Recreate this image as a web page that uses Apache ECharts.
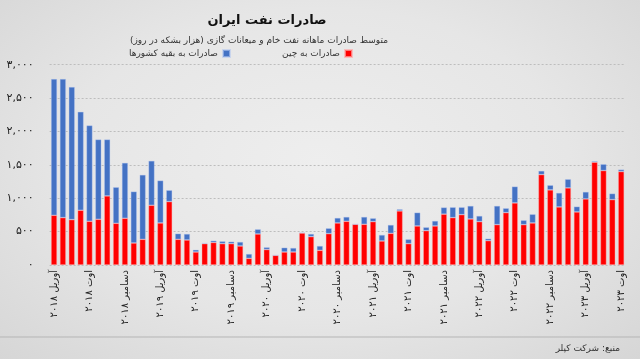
<!DOCTYPE html>
<html>
<head>
<meta charset="utf-8">
<script src="https://cdn.jsdelivr.net/npm/echarts@6/dist/echarts.min.js"></script>
<style>
html,body{margin:0;padding:0;}
body{width:640px;height:359px;overflow:hidden;background:radial-gradient(ellipse at 50% 45%, #eeeeee 0%, #e6e6e6 55%, #d6d6d6 100%);}
#chart{width:640px;height:359px;}
</style>
</head>
<body>
<div id="chart"></div>
<script>
const categories = [
 'آوریل ۲۰۱۸','مه ۲۰۱۸','ژوئن ۲۰۱۸','ژوئیه ۲۰۱۸','اوت ۲۰۱۸','سپتامبر ۲۰۱۸','اکتبر ۲۰۱۸','نوامبر ۲۰۱۸','دسامبر ۲۰۱۸',
 'ژانویه ۲۰۱۹','فوریه ۲۰۱۹','مارس ۲۰۱۹','آوریل ۲۰۱۹','مه ۲۰۱۹','ژوئن ۲۰۱۹','ژوئیه ۲۰۱۹','اوت ۲۰۱۹','سپتامبر ۲۰۱۹','اکتبر ۲۰۱۹','نوامبر ۲۰۱۹','دسامبر ۲۰۱۹',
 'ژانویه ۲۰۲۰','فوریه ۲۰۲۰','مارس ۲۰۲۰','آوریل ۲۰۲۰','مه ۲۰۲۰','ژوئن ۲۰۲۰','ژوئیه ۲۰۲۰','اوت ۲۰۲۰','سپتامبر ۲۰۲۰','اکتبر ۲۰۲۰','نوامبر ۲۰۲۰','دسامبر ۲۰۲۰',
 'ژانویه ۲۰۲۱','فوریه ۲۰۲۱','مارس ۲۰۲۱','آوریل ۲۰۲۱','مه ۲۰۲۱','ژوئن ۲۰۲۱','ژوئیه ۲۰۲۱','اوت ۲۰۲۱','سپتامبر ۲۰۲۱','اکتبر ۲۰۲۱','نوامبر ۲۰۲۱','دسامبر ۲۰۲۱',
 'ژانویه ۲۰۲۲','فوریه ۲۰۲۲','مارس ۲۰۲۲','آوریل ۲۰۲۲','مه ۲۰۲۲','ژوئن ۲۰۲۲','ژوئیه ۲۰۲۲','اوت ۲۰۲۲','سپتامبر ۲۰۲۲','اکتبر ۲۰۲۲','نوامبر ۲۰۲۲','دسامبر ۲۰۲۲',
 'ژانویه ۲۰۲۳','فوریه ۲۰۲۳','مارس ۲۰۲۳','آوریل ۲۰۲۳','مه ۲۰۲۳','ژوئن ۲۰۲۳','ژوئیه ۲۰۲۳','اوت ۲۰۲۳'
];
// exports to China (thousand barrels/day)
const chinaExports = [
 745,710,680,820,655,685,1035,625,700,
 330,385,895,630,950,385,375,195,320,338,320,320,
 285,100,465,232,145,195,195,480,425,220,470,630,
 655,610,610,650,360,475,810,320,585,515,585,762,
 710,755,690,650,365,605,785,930,605,630,1355,1125,
 870,1155,795,990,1540,1415,980,1400
];
// exports to other countries
const otherExports = [
 2040,2075,1985,1475,1435,1195,845,540,830,
 770,965,665,635,170,85,90,33,10,27,35,30,
 60,65,70,33,0,65,60,5,40,65,80,75,
 65,0,110,50,90,125,25,65,200,50,75,100,
 155,110,195,85,30,280,65,245,65,130,55,70,
 210,130,80,105,15,95,90,30
];
const yTicks = [0,500,1000,1500,2000,2500,3000];
const yTickLabels = ['۰','۵۰۰','۱,۰۰۰','۱,۵۰۰','۲,۰۰۰','۲,۵۰۰','۳,۰۰۰'];
const seriesNames = ['صادرات به چین','صادرات به بقیه کشورها'];
const titleText = 'صادرات نفت ایران';
const subtitleText = 'متوسط صادرات ماهانه نفت خام و میعانات گازی (هزار بشکه در روز)\u200F';
const sourceText = 'منبع: شرکت کپلر';

const FONT = 'DejaVu Sans';
const chart = echarts.init(document.getElementById('chart'), null, {renderer:'canvas'});
chart.setOption({
  backgroundColor:'transparent',
  animation:false,
  title:[
    {text:titleText, left:262, top:9, textAlign:'center',
     textStyle:{fontFamily:FONT, fontSize:13, fontWeight:'bold', color:'#111'}},
    {text:subtitleText, left:254, top:31, textAlign:'center',
     textStyle:{fontFamily:FONT, fontSize:9, fontWeight:'normal', color:'#333'}},
    {text:sourceText, right:15, top:339,
     textStyle:{fontFamily:FONT, fontSize:9, fontWeight:'normal', color:'#333'}}
  ],
  legend:[
    {data:[seriesNames[0]], right:287, top:49, align:'right', itemWidth:7, itemHeight:7, itemGap:4,
     icon:'rect', padding:0, textStyle:{fontFamily:FONT, fontSize:9, color:'#333', padding:[0,0,0,0]}},
    {data:[seriesNames[1]], right:409, top:49, align:'right', itemWidth:7, itemHeight:7, itemGap:4,
     icon:'rect', padding:0, textStyle:{fontFamily:FONT, fontSize:9, color:'#333', padding:[0,0,0,0]}}
  ],
  grid:{left:49.6, right:14.4, top:64.7, bottom:94, containLabel:false},
  xAxis:{
    type:'category', data:categories,
    axisLine:{show:false}, axisTick:{show:false},
    axisLabel:{interval:3, rotate:90, fontFamily:FONT, fontSize:10, color:'#222', margin:5}
  },
  yAxis:{
    type:'value', min:0, max:3000, interval:500,
    axisLine:{show:false}, axisTick:{show:false},
    splitLine:{lineStyle:{type:[2,2], color:'#bdbdbd', width:1}},
    axisLabel:{fontFamily:FONT, fontSize:11, color:'#222', margin:16,
      formatter:function(v){const i=yTicks.indexOf(v); return i>=0?yTickLabels[i]:'';}}
  },
  graphic:[
    {type:'line', shape:{x1:0,y1:337,x2:640,y2:337}, style:{stroke:'#b5b5b5', lineWidth:1}, silent:true}
  ],
  series:[
    {name:seriesNames[0], type:'bar', stack:'total', data:chinaExports, barWidth:6,
     itemStyle:{color:'#ff0000', borderColor:'rgba(255,170,170,0.7)', borderWidth:0.6}},
    {name:seriesNames[1], type:'bar', stack:'total', data:otherExports, barWidth:6,
     itemStyle:{color:'#4472c4', borderColor:'rgba(180,200,240,0.6)', borderWidth:0.6}}
  ]
});
</script>
</body>
</html>
